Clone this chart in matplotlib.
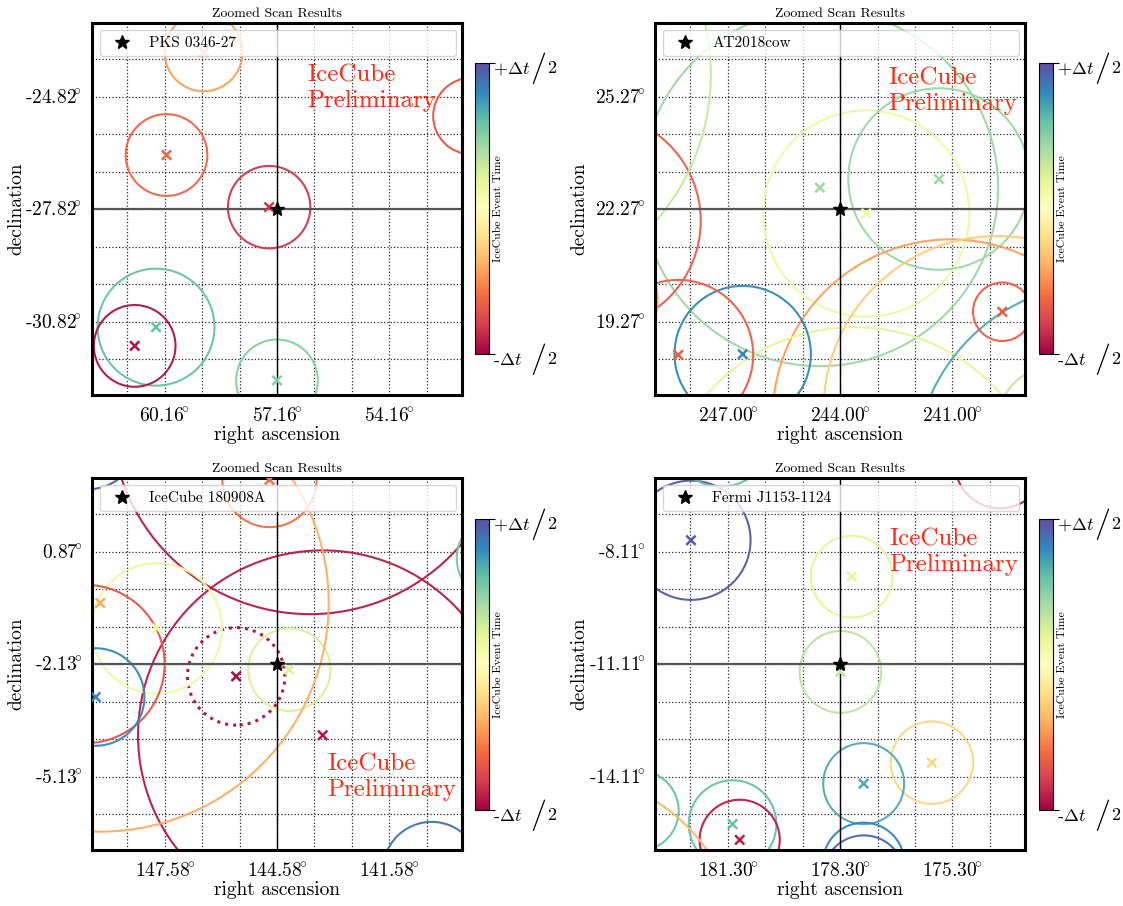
import numpy as np
import matplotlib
matplotlib.use('Agg')
import matplotlib.pyplot as plt
from matplotlib.patches import Ellipse
from matplotlib.ticker import FixedLocator, FixedFormatter
import matplotlib.colors as mcolors
import matplotlib.cm as cm

plt.rcParams['font.family'] = ['cmr10', 'DejaVu Serif']
plt.rcParams['mathtext.fontset'] = 'cm'
plt.rcParams['axes.unicode_minus'] = False
plt.rcParams['axes.formatter.use_mathtext'] = True

# ---------------- data ----------------
sources = ['PKS 0346-27', 'AT2018cow', 'IceCube 180908A', 'Fermi J1153-1124']
src_ra = [57.16, 244.00, 144.58, 178.30]
src_dec = [-27.82, 22.27, -2.13, -11.11]

p1_ra_ticks = [60.16, 57.16, 54.16]
p1_dec_ticks = [-24.82, -27.82, -30.82]
p2_ra_ticks = [247.00, 244.00, 241.00]
p2_dec_ticks = [25.27, 22.27, 19.27]
p3_ra_ticks = [147.58, 144.58, 141.58]
p3_dec_ticks = [0.87, -2.13, -5.13]
p4_ra_ticks = [181.30, 178.30, 175.30]
p4_dec_ticks = [-8.11, -11.11, -14.11]

# events: RA, Dec, error radius (deg), event time (0 = -dt/2, 1 = +dt/2)
p1_ev_ra = [59.12, 60.11, 57.37, 51.97, 60.39, 60.96, 57.16, 63.17]
p1_ev_dec = [-23.64, -26.38, -27.77, -25.34, -30.97, -31.47, -32.39, -32.00]
p1_ev_r = [1.04, 1.09, 1.10, 1.02, 1.56, 1.09, 1.09, 1.10]
p1_ev_t = [0.28, 0.18, 0.09, 0.15, 0.80, 0.03, 0.75, 0.30]

p2_ev_ra = [243.30, 241.36, 244.54, 241.05, 239.80, 243.63, 236.96, 238.29,
            246.60, 248.32, 250.60, 250.74, 239.67, 253.40]
p2_ev_dec = [22.15, 23.07, 22.84, 16.71, 16.91, 13.92, 15.24, 16.57,
             18.40, 18.38, 21.95, 19.85, 19.53, 25.86]
p2_ev_r = [2.75, 2.42, 4.76, 4.75, 4.64, 5.20, 5.06, 1.50,
           1.82, 2.00, 2.88, 1.87, 0.78, 5.95]
p2_ev_t = [0.57, 0.72, 0.72, 0.28, 0.36, 0.60, 0.84, 0.66,
           0.90, 0.17, 0.17, 0.30, 0.17, 0.65]

p3_ev_ra = [145.67, 144.25, 143.36, 143.70, 144.78, 149.30, 147.79, 149.69,
            149.42, 149.63, 138.60, 140.45]
p3_ev_dec = [-2.46, -2.28, -4.03, 4.51, 2.78, -0.50, -1.18, -2.13,
             -3.01, 3.89, 0.69, -7.64]
p3_ev_r = [1.30, 1.10, 4.93, 5.31, 1.26, 6.10, 1.74, 2.11,
           1.30, 1.36, 1.18, 1.30]
p3_ev_t = [0.02, 0.62, 0.04, 0.04, 0.20, 0.30, 0.57, 0.15,
           0.90, 0.98, 0.78, 0.93]
p3_dotted_event = 0

p4_ev_ra = [182.28, 181.48, 174.03, 177.99, 178.29, 175.85, 177.67, 177.67,
            177.67, 181.17, 180.98, 183.68, 185.78]
p4_ev_dec = [-7.81, -5.00, -5.76, -8.78, -11.32, -13.74, -14.30, -16.43,
             -16.77, -15.38, -15.80, -15.02, -18.83]
p4_ev_r = [1.59, 1.38, 1.20, 1.09, 1.09, 1.10, 1.08, 1.09,
           1.09, 1.17, 1.07, 1.07, 4.80]
p4_ev_t = [0.98, 0.80, 0.05, 0.60, 0.67, 0.38, 0.84, 0.90,
           0.95, 0.80, 0.05, 0.80, 0.32]

panels = [
    (p1_ra_ticks, p1_dec_ticks, p1_ev_ra, p1_ev_dec, p1_ev_r, p1_ev_t),
    (p2_ra_ticks, p2_dec_ticks, p2_ev_ra, p2_ev_dec, p2_ev_r, p2_ev_t),
    (p3_ra_ticks, p3_dec_ticks, p3_ev_ra, p3_ev_dec, p3_ev_r, p3_ev_t),
    (p4_ra_ticks, p4_dec_ticks, p4_ev_ra, p4_ev_dec, p4_ev_r, p4_ev_t),
]

# ---------------- layout ----------------
fig = plt.figure(figsize=(11.23, 9.06), dpi=100)
ax_pos = [[0.0819, 0.5640, 0.3295, 0.4106], [0.5833, 0.5640, 0.3295, 0.4106],
          [0.0819, 0.0618, 0.3295, 0.4106], [0.5833, 0.0618, 0.3295, 0.4106]]
cb_pos = [[0.4230, 0.6093, 0.0125, 0.3212], [0.9252, 0.6093, 0.0125, 0.3212],
          [0.4230, 0.1060, 0.0125, 0.3212], [0.9252, 0.1060, 0.0125, 0.3212]]
prelim_pos = [(0.581, 0.889), (0.630, 0.881), (0.635, 0.260), (0.632, 0.865)]
XH, YH = 4.94, 4.96
cmap = plt.get_cmap('Spectral')
norm = mcolors.Normalize(0, 1)


def deg_label(v):
    return '%.2f$\\!^{\\circ}$' % v


for i, (ra_t, dec_t, ev_ra, ev_dec, ev_r, ev_t) in enumerate(panels):
    ax = fig.add_axes(ax_pos[i])
    ra0, dec0 = src_ra[i], src_dec[i]

    for j, (r, d, rad, t) in enumerate(zip(ev_ra, ev_dec, ev_r, ev_t)):
        dotted = (i == 2 and j == p3_dotted_event)
        ax.add_patch(Ellipse((r, d), 2 * rad, 2 * rad, fill=False,
                             ec=cmap(norm(t)), lw=2.2 if dotted else 1.5,
                             ls=':' if dotted else '-', zorder=2, alpha=0.95))
    ax.scatter(ev_ra, ev_dec, marker='x', c=[cmap(norm(t)) for t in ev_t],
               s=45, linewidths=1.8, zorder=3)

    ax.axhline(dec0, color='#555555', lw=1.6, zorder=2.5)
    ax.axvline(ra0, color='k', lw=1.0, zorder=2.5)
    ax.plot([ra0], [dec0], marker='*', color='k', ms=10.5, ls='none',
            zorder=6, label=sources[i])

    ax.set_xlim(ra0 + XH, ra0 - XH)
    ax.set_ylim(dec0 - YH, dec0 + YH)

    ax.xaxis.set_major_locator(FixedLocator(ra_t))
    ax.xaxis.set_major_formatter(FixedFormatter([deg_label(v) for v in ra_t]))
    ax.yaxis.set_major_locator(FixedLocator(dec_t))
    ax.yaxis.set_major_formatter(FixedFormatter([deg_label(v) for v in dec_t]))
    ax.xaxis.set_minor_locator(FixedLocator(np.arange(ra0 - 4, ra0 + 4.5, 1.0)))
    ax.yaxis.set_minor_locator(FixedLocator(np.arange(dec0 - 4, dec0 + 4.5, 1.0)))
    ax.tick_params(axis='both', which='both', length=0, labelsize=14)
    ax.tick_params(axis='x', pad=9)
    ax.tick_params(axis='y', pad=7)
    ax.grid(True, which='both', color='k', ls=':', lw=0.9, alpha=0.85)
    ax.set_axisbelow(True)

    for sp in ax.spines.values():
        sp.set_linewidth(2.2)
        sp.set_color('k')

    ax.set_xlabel('right ascension', fontsize=14)
    ax.set_ylabel('declination', fontsize=14)
    ax.xaxis.set_label_coords(0.5, -0.083)
    ax.yaxis.set_label_coords(-0.181, 0.5)
    ax.set_title('Zoomed Scan Results', fontsize=10, pad=4)

    ax.legend(loc='upper left', bbox_to_anchor=(0.022, 0.0, 0.962, 0.981),
              mode='expand', borderaxespad=0, fontsize=11, numpoints=1)

    ax.text(prelim_pos[i][0], prelim_pos[i][1], 'IceCube\nPreliminary',
            transform=ax.transAxes, color='#ff2a12', fontsize=18,
            ha='left', va='top', zorder=7)

    # colorbar
    cax = fig.add_axes(cb_pos[i])
    sm = cm.ScalarMappable(norm=norm, cmap=cmap)
    cb = fig.colorbar(sm, cax=cax)
    cb.set_ticks([0, 1])
    cax.set_yticklabels(['', ''])
    cax.tick_params(length=4, width=0.8)
    cb.outline.set_linewidth(0.8)
    cb.set_label('IceCube Event Time', fontsize=8.5)
    cax.yaxis.set_label_coords(1.3, 0.5)
    for yv, first in [(1.0, r'$+\Delta t$'), (0.0, r'-$\Delta t$')]:
        cax.annotate(first, xy=(1, yv), xycoords='axes fraction',
                     xytext=(3, -4), textcoords='offset points',
                     ha='left', va='center', fontsize=13)
        cax.annotate('/', xy=(1, yv), xycoords='axes fraction',
                     xytext=(30, -4), textcoords='offset points',
                     ha='left', va='center', fontsize=23)
        cax.annotate('2', xy=(1, yv), xycoords='axes fraction',
                     xytext=(41.5, -4), textcoords='offset points',
                     ha='left', va='center', fontsize=13)

fig.savefig('out.png', dpi=100)
